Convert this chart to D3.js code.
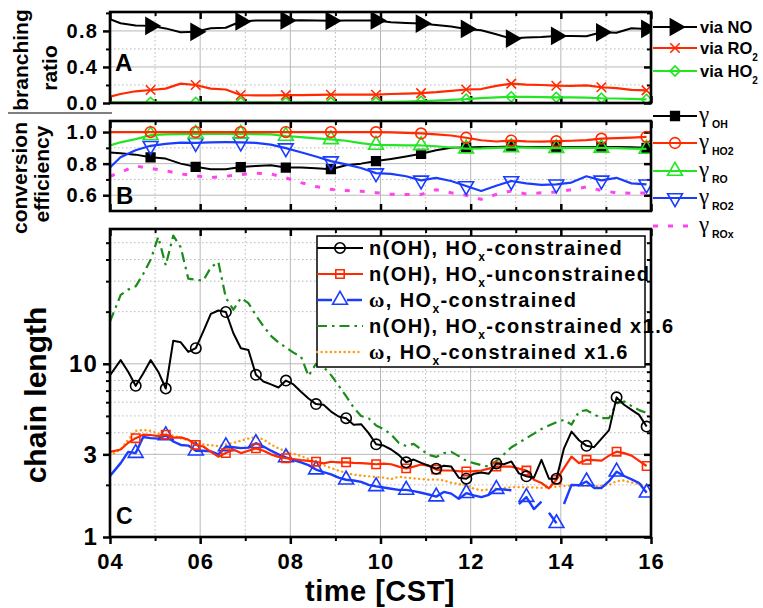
<!DOCTYPE html>
<html>
<head>
<meta charset="utf-8">
<script src="https://cdn.jsdelivr.net/npm/d3@7"></script>
<style>
  body { margin: 0; background: #fff; }
  svg { font-family: Arial, "Liberation Sans", sans-serif; font-weight: bold; }
</style>
</head>
<body>
<svg id="chart"></svg>
<script>
// ---- data ----
const hourTicks = d3.range(4, 17);
// panels A and B: 20-min averages (first point at 04:00)
const timeAB = d3.range(37).map(i => i === 0 ? 4.0 : 3.9 + i / 3);
const viaNO = [0.93, 0.885, 0.86, 0.856, 0.828, 0.785, 0.79, 0.83, 0.835, 0.905, 0.915, 0.915, 0.916, 0.918, 0.915, 0.912, 0.916, 0.916, 0.916, 0.896, 0.889, 0.881, 0.867, 0.848, 0.822, 0.807, 0.763, 0.715, 0.726, 0.733, 0.744, 0.744, 0.741, 0.785, 0.78, 0.83, 0.822];
const viaRO2 = [0.07, 0.1, 0.13, 0.144, 0.16, 0.215, 0.2, 0.16, 0.15, 0.089, 0.085, 0.085, 0.088, 0.088, 0.09, 0.092, 0.092, 0.092, 0.092, 0.1, 0.105, 0.11, 0.12, 0.135, 0.15, 0.155, 0.19, 0.215, 0.205, 0.2, 0.192, 0.19, 0.195, 0.175, 0.165, 0.145, 0.14];
const viaHO2 = [0.008, 0.008, 0.008, 0.008, 0.008, 0.008, 0.008, 0.008, 0.008, 0.008, 0.008, 0.008, 0.008, 0.008, 0.008, 0.008, 0.008, 0.008, 0.01, 0.012, 0.015, 0.02, 0.028, 0.034, 0.042, 0.055, 0.062, 0.068, 0.068, 0.066, 0.063, 0.062, 0.06, 0.053, 0.05, 0.045, 0.04];

const gammaOH = [0.87, 0.865, 0.857, 0.84, 0.832, 0.8, 0.78, 0.765, 0.765, 0.778, 0.785, 0.79, 0.775, 0.775, 0.77, 0.765, 0.79, 0.8, 0.816, 0.83, 0.845, 0.862, 0.885, 0.9, 0.902, 0.905, 0.906, 0.908, 0.906, 0.905, 0.904, 0.905, 0.906, 0.906, 0.905, 0.903, 0.9];
const gammaHO2 = [1, 1, 1, 1, 1, 1, 1, 1, 1, 1, 1, 1, 1, 1, 1, 1, 1, 0.999, 0.999, 0.998, 0.995, 0.991, 0.985, 0.978, 0.964, 0.948, 0.94, 0.946, 0.941, 0.939, 0.942, 0.945, 0.949, 0.958, 0.962, 0.965, 0.97];
const gammaRO = [0.915, 0.935, 0.955, 0.98, 0.985, 0.987, 0.988, 0.988, 0.988, 0.988, 0.987, 0.985, 0.975, 0.968, 0.96, 0.954, 0.945, 0.93, 0.918, 0.917, 0.916, 0.915, 0.91, 0.902, 0.895, 0.896, 0.9, 0.903, 0.902, 0.9, 0.898, 0.9, 0.9, 0.9, 0.898, 0.895, 0.893];
const gammaRO2 = [0.775, 0.84, 0.885, 0.913, 0.925, 0.933, 0.932, 0.935, 0.936, 0.935, 0.932, 0.92, 0.898, 0.872, 0.845, 0.816, 0.795, 0.772, 0.74, 0.735, 0.72, 0.694, 0.71, 0.69, 0.658, 0.627, 0.66, 0.69, 0.675, 0.665, 0.669, 0.68, 0.72, 0.694, 0.71, 0.675, 0.669];
const gammaROx = [0.72, 0.745, 0.785, 0.77, 0.755, 0.735, 0.722, 0.712, 0.72, 0.73, 0.74, 0.735, 0.71, 0.68, 0.655, 0.637, 0.63, 0.625, 0.616, 0.606, 0.605, 0.605, 0.635, 0.615, 0.6, 0.574, 0.605, 0.627, 0.608, 0.615, 0.62, 0.635, 0.652, 0.63, 0.615, 0.612, 0.615];

// panel C: 10-min values
const timeC = d3.range(72).map(k => k === 0 ? 4.0 : 4.07 + k / 6);
const nOHcon = [8.6, 10.5, 9.0, 7.46, 8.8, 10.5, 9.0, 7.2, 13.6, 13.3, 11.7, 12.3, 15.4, 19.4, 20.3, 19.9, 15.0, 12.3, 12.0, 8.64, 7.9, 7.6, 7.3, 8.0, 7.6, 6.9, 6.3, 5.85, 5.8, 5.3, 4.96, 4.85, 4.44, 4.48, 3.98, 3.43,
  3.37, 3.2, 2.98, 2.7, 2.8, 2.68, 2.58, 2.48, 2.58, 2.55, 2.2, 2.17, 2.32, 2.36, 2.32, 2.66, 2.63, 2.73, 2.33, 2.24, 2.2, 2.79, 2.17, 2.17, 3.25, 4.06, 3.62, 3.36, 3.3, 3.7, 4.14, 6.4, 5.8, 5.42, 5.07, 4.34];
const nOHunc = [3.1, 3.2, 3.5, 3.72, 3.9, 3.88, 3.82, 3.9, 3.75, 3.76, 3.65, 3.4, 3.33, 3.1, 2.91, 3.05, 3.2, 3.05, 3.15, 3.25, 3.15, 3.0, 2.9, 2.85, 2.82, 2.78, 2.75, 2.72, 2.66, 2.72, 2.7, 2.7, 2.68, 2.67, 2.65, 2.63,
  2.65, 2.63, 2.55, 2.49, 2.55, 2.62, 2.58, 2.45, 2.42, 2.42, 2.4, 2.39, 2.4, 2.42, 2.48, 2.55, 2.55, 2.55, 2.48, 2.42, 2.14, 2.05, 1.91, 2.14, 2.5, 2.91, 2.67, 2.79, 2.78, 2.76, 2.95, 3.11, 3.05, 2.95, 2.75, 2.57];
const omegaCon = [2.25, 2.67, 3.1, 3.05, 3.78, 3.72, 3.7, 3.86, 3.56, 3.4, 3.37, 3.15, 3.15, 3.12, 3.0, 3.33, 3.3, 3.26, 3.28, 3.48, 3.33, 3.15, 3.0, 2.88, 2.78, 2.7, 2.6, 2.45, 2.37, 2.3, 2.2, 2.14, 2.12, 2.08, 2.0, 1.96,
  1.93, 1.9, 1.87, 1.87, 1.84, 1.8, 1.76, 1.71, 1.82, 1.78, 1.66, 1.79, 1.74, 1.7, 1.75, 1.89, 1.88, 1.86, 1.55, 1.7, 1.45, 1.6, 1.38, 1.2, 1.55, 2.0, 1.99, 2.09, 1.92, 1.92, 2.1, 2.38, 2.25, 2.15, 2.05, 1.8];
const omegaBreaks = [53, 57, 59]; // the series has gaps after these points
const nOHcon16 = [17.5, 25, 26.8, 28, 33, 40, 54, 37, 55, 47, 31, 30.6, 30.2, 36, 38.7, 24, 20.5, 24, 22.4, 19, 16.5, 14.5, 13.3, 12.4, 11.6, 11, 8.5, 10.0, 9.6, 8.6, 7.5, 6.5, 5.6, 5.0, 4.85, 4.4,
  4.2, 3.9, 3.5, 3.35, 3.45, 3.2, 2.98, 2.9, 3.05, 3.1, 2.93, 2.75, 2.67, 2.6, 2.55, 2.75, 3.0, 3.3, 3.5, 3.72, 3.95, 4.2, 4.4, 4.6, 4.75, 4.45, 5.3, 5.4, 5.1, 4.86, 4.86, 5.9, 6.06, 5.7, 5.4, 5.2];
const omegaCon16 = [2.95, 3.2, 3.65, 4.1, 4.15, 4.1, 3.95, 3.9, 3.85, 3.72, 3.62, 3.5, 3.42, 3.38, 3.35, 3.42, 3.5, 3.6, 3.7, 3.78, 3.66, 3.42, 3.25, 3.12, 3.03, 2.93, 2.83, 2.7, 2.6, 2.5, 2.42, 2.34, 2.29, 2.26, 2.24, 2.22,
  2.2, 2.16, 2.23, 2.2, 2.18, 2.16, 2.14, 2.15, 2.12, 2.06, 2.02, 1.99, 1.9, 1.86, 1.88, 1.9, 1.92, 1.94, 1.94, 1.94, 1.93, 1.92, 1.94, 1.95, 1.97, 1.98, 1.99, 1.98, 1.97, 1.98, 2.0, 2.1, 2.12, 2.06, 2.02, 1.97];

// ---- layout ----
const width = 763, height = 608;
const svg = d3.select("#chart").attr("width", width).attr("height", height);
const x = d3.scaleLinear().domain([4, 16]).range([110, 651]);
const boxA = { top: 12, bottom: 103 }, boxB = { top: 121, bottom: 211 }, boxC = { top: 229, bottom: 537 };
const yA = d3.scaleLinear().domain([0, 1.01]).range([boxA.bottom, boxA.top]);
const yB = d3.scaleLinear().domain([0.5, 1.07]).range([boxB.bottom, boxB.top]);
const yC = d3.scaleLog().domain([1, 60]).range([boxC.bottom, boxC.top]);

const cross = { draw(ctx, size) { const r = Math.sqrt(size) / 2; ctx.moveTo(-r, -r); ctx.lineTo(r, r); ctx.moveTo(-r, r); ctx.lineTo(r, -r); } };
const markAB = i => i > 0 && i % 3 === 0;
const markC = k => k % 4 === 3;

const RED = "#ff2a00", GREEN = "#22e622", BLUE = "#1a3cff", PINK = "#ff44ee", DKGREEN = "#1a8c1a", ORANGE = "#ff9a10";

function styleAxis(g, w) {
  g.select(".domain").remove();
  g.selectAll(".tick line").attr("stroke", "#000").attr("stroke-width", w);
}

function drawPanel(box, y, yMajor, yMinor, fmt, fontSize, xLabels) {
  const g = svg.append("g");
  const x0 = x.range()[0], x1 = x.range()[1];
  // grid
  g.selectAll(null).data(hourTicks.slice(1, -1)).join("line")
    .attr("x1", d => x(d)).attr("x2", d => x(d)).attr("y1", box.top).attr("y2", box.bottom)
    .attr("stroke", "#b8b8b8").attr("stroke-width", 1)
    .attr("stroke-dasharray", d => d % 2 ? "1.5,2.5" : null);
  g.selectAll(null).data(yMajor.concat(yMinor).filter(v => y(v) < box.bottom - 1 && y(v) > box.top + 1)).join("line")
    .attr("x1", x0).attr("x2", x1).attr("y1", d => y(d)).attr("y2", d => y(d))
    .attr("stroke", "#b8b8b8").attr("stroke-width", 1)
    .attr("stroke-dasharray", d => yMajor.includes(d) ? null : "1.5,2.5");

  // left axis (outward)
  const left = g.append("g").attr("transform", `translate(${x0},0)`);
  left.call(d3.axisLeft(y).tickValues(yMajor).tickSize(7).tickPadding(5).tickFormat(fmt)).call(styleAxis, 2.5);
  left.selectAll("text").attr("font-size", fontSize).attr("letter-spacing", 1.2)
    .attr("font-family", null).attr("font-weight", "bold").attr("fill", "#000");
  left.append("g").call(d3.axisLeft(y).tickValues(yMinor).tickSize(4).tickFormat("")).call(styleAxis, 2);
  // right axis (inward)
  const right = g.append("g").attr("transform", `translate(${x1},0)`);
  right.call(d3.axisRight(y).tickValues(yMajor).tickSize(-7).tickFormat("")).call(styleAxis, 2.5);
  right.append("g").call(d3.axisRight(y).tickValues(yMinor).tickSize(-4).tickFormat("")).call(styleAxis, 2);
  // top axis (inward)
  const even = hourTicks.filter(h => h % 2 === 0), odd = hourTicks.filter(h => h % 2 === 1);
  const top = g.append("g").attr("transform", `translate(0,${box.top})`);
  top.call(d3.axisTop(x).tickValues(even).tickSize(-7).tickFormat("")).call(styleAxis, 2.5);
  top.append("g").call(d3.axisTop(x).tickValues(odd).tickSize(-4).tickFormat("")).call(styleAxis, 2);
  // bottom axis
  const bottom = g.append("g").attr("transform", `translate(0,${box.bottom})`);
  const s = xLabels ? 1 : -1;
  bottom.call(d3.axisBottom(x).tickValues(even).tickSize(7 * s).tickPadding(9)
    .tickFormat(xLabels ? d3.format("02d") : "")).call(styleAxis, 2.5);
  bottom.append("g").call(d3.axisBottom(x).tickValues(odd).tickSize(4 * s).tickFormat("")).call(styleAxis, 2);
  bottom.selectAll("text").attr("font-size", 22).attr("letter-spacing", 1)
    .attr("font-family", null).attr("font-weight", "bold").attr("fill", "#000");

  const id = "clip" + box.top;
  svg.append("clipPath").attr("id", id).append("rect")
    .attr("x", x0).attr("y", box.top).attr("width", x1 - x0).attr("height", box.bottom - box.top);
  const plot = svg.append("g").attr("clip-path", `url(#${id})`);
  return plot;
}

function drawFrame(box) {
  svg.append("rect").attr("x", x.range()[0]).attr("y", box.top)
    .attr("width", x.range()[1] - x.range()[0]).attr("height", box.bottom - box.top)
    .attr("fill", "none").attr("stroke", "#000").attr("stroke-width", 2.6);
}

function marker(sel, st) {
  return sel.attr("d", d3.symbol(st.symbol, st.size))
    .attr("fill", st.fill ? st.color : "none").attr("stroke", st.color).attr("stroke-width", 1.6);
}

function plotSeries(g, times, values, y, st, isMarked, breaks = []) {
  const pts = times.map((t, i) => [t, values[i], i]);
  const pieces = [];
  let cur = [];
  pts.forEach((p, i) => { cur.push(p); if (breaks.includes(i)) { pieces.push(cur); cur = []; } });
  pieces.push(cur);
  const line = d3.line().x(d => x(d[0])).y(d => y(d[1]));
  g.selectAll(null).data(pieces).join("path")
    .attr("d", line).attr("fill", "none").attr("stroke", st.color).attr("stroke-width", st.width)
    .attr("stroke-dasharray", st.dash || null).attr("stroke-linecap", st.cap || "butt")
    .attr("stroke-linejoin", "round");
  if (st.symbol) {
    g.selectAll(null).data(pts.filter(p => isMarked(p[2]))).join("path")
      .attr("transform", d => `translate(${x(d[0])},${y(d[1])}) rotate(${st.rotate || 0})`)
      .call(marker, st);
  }
}

// ---- styles ----
const stNO = { color: "#000", width: 2, symbol: d3.symbolTriangle, size: 110, rotate: 90, fill: true };
const stRO2 = { color: RED, width: 2.2, symbol: cross, size: 90 };
const stHO2 = { color: GREEN, width: 2.2, symbol: d3.symbolSquare, size: 50, rotate: 45 };
const stGOH = { color: "#000", width: 2, symbol: d3.symbolSquare, size: 75, fill: true };
const stGHO2 = { color: RED, width: 2.2, symbol: d3.symbolCircle, size: 90 };
const stGRO = { color: GREEN, width: 2.2, symbol: d3.symbolTriangle, size: 95 };
const stGRO2 = { color: BLUE, width: 2.2, symbol: d3.symbolTriangle, size: 95, rotate: 180 };
const stGROx = { color: PINK, width: 3, dash: "5,10" };
const stC1 = { color: "#000", width: 2, symbol: d3.symbolCircle, size: 85 };
const stC2 = { color: RED, width: 2.2, symbol: d3.symbolSquare, size: 70 };
const stC3 = { color: BLUE, width: 2.4, symbol: d3.symbolTriangle, size: 95 };
const stC4 = { color: DKGREEN, width: 2.2, dash: "10,5,2.5,5" };
const stC5 = { color: ORANGE, width: 2.4, dash: "0.1,4.5", cap: "round" };

// ---- panel A ----
const pA = drawPanel(boxA, yA, [0, 0.4, 0.8], [0.2, 0.6, 1.0], d3.format(".1f"), 20, false);
plotSeries(pA, timeAB, viaHO2, yA, stHO2, markAB);
plotSeries(pA, timeAB, viaRO2, yA, stRO2, markAB);
plotSeries(pA, timeAB, viaNO, yA, stNO, markAB);
drawFrame(boxA);

// ---- panel B ----
const pB = drawPanel(boxB, yB, [0.6, 0.8, 1.0], [0.7, 0.9], d3.format(".1f"), 20, false);
plotSeries(pB, timeAB, gammaROx, yB, stGROx, markAB);
plotSeries(pB, timeAB, gammaOH, yB, stGOH, markAB);
plotSeries(pB, timeAB, gammaRO2, yB, stGRO2, markAB);
plotSeries(pB, timeAB, gammaRO, yB, stGRO, markAB);
plotSeries(pB, timeAB, gammaHO2, yB, stGHO2, markAB);
drawFrame(boxB);

// ---- panel C ----
const pC = drawPanel(boxC, yC, [1, 3, 10], [2, 4, 5, 6, 7, 8, 9, 20, 30, 40, 50], d3.format("d"), 24, true);
plotSeries(pC, timeC, omegaCon16, yC, stC5, markC);
plotSeries(pC, timeC, nOHcon16, yC, stC4, markC);
plotSeries(pC, timeC, omegaCon, yC, stC3, markC, omegaBreaks);
plotSeries(pC, timeC, nOHunc, yC, stC2, markC);
plotSeries(pC, timeC, nOHcon, yC, stC1, markC);

// legend C
const legC = svg.append("g");
legC.append("rect").attr("x", 317).attr("y", 236).attr("width", 328).attr("height", 131)
  .attr("fill", "#fff").attr("stroke", "#000").attr("stroke-width", 1.5);
const legCItems = [
  { st: stC1, y: 248, parts: [["n(OH), HO"], ["x", "sub"], ["-constrained"]] },
  { st: stC2, y: 274, parts: [["n(OH), HO"], ["x", "sub"], ["-unconstrained"]] },
  { st: Object.assign({}, stC3, { dash: "15,15" }), y: 300, parts: [["ω", "serif"], [", HO"], ["x", "sub"], ["-constrained"]] },
  { st: stC4, y: 326, parts: [["n(OH), HO"], ["x", "sub"], ["-constrained x1.6"]] },
  { st: stC5, y: 352, parts: [["ω", "serif"], [", HO"], ["x", "sub"], ["-constrained x1.6"]] }
];

function legendEntry(g, item, xl0, xl1, xt, fs, subFs, subDy, spacing) {
  const st = item.st;
  g.append("line").attr("x1", xl0).attr("x2", xl1).attr("y1", item.y).attr("y2", item.y)
    .attr("stroke", st.color).attr("stroke-width", st.width)
    .attr("stroke-dasharray", st.dash || null).attr("stroke-linecap", st.cap || "butt");
  if (st.symbol) {
    g.append("path").attr("transform", `translate(${(xl0 + xl1) / 2},${item.y}) rotate(${st.rotate || 0})`).call(marker, st);
  }
  const t = g.append("text").attr("x", xt).attr("y", item.y + fs * 0.36).attr("font-size", fs)
    .attr("letter-spacing", spacing || 0).attr("fill", "#000");
  let shifted = 0;
  item.parts.forEach(([s, kind]) => {
    const sp = t.append("tspan").text(s);
    if (kind === "sub") { sp.attr("font-size", subFs).attr("dy", subDy - shifted); shifted = subDy; }
    else { if (shifted) { sp.attr("dy", -shifted); shifted = 0; } }
    if (kind === "serif") sp.attr("font-family", "'Liberation Serif', 'DejaVu Serif', serif").attr("font-size", fs + 1);
  });
}
legCItems.forEach(item => legendEntry(legC, item, 317, 363, 369, 20, 12, 6, 1.4));
drawFrame(boxC);

// legends A and B (outside, right)
const legA = svg.append("g");
[
  { st: stNO, y: 27, parts: [["via NO"]] },
  { st: stRO2, y: 48, parts: [["via RO"], ["2", "sub"]] },
  { st: stHO2, y: 71, parts: [["via HO"], ["2", "sub"]] }
].forEach(item => legendEntry(legA, item, 653, 697, 700, 16.5, 10, 7, 0));

const legB = svg.append("g");
[
  { st: stGOH, y: 116, sub: "OH" },
  { st: stGHO2, y: 143, sub: "HO2" },
  { st: stGRO, y: 171, sub: "RO" },
  { st: stGRO2, y: 198, sub: "RO2" },
  { st: stGROx, y: 226, sub: "ROx" }
].forEach(item => {
  legendEntry(legB, Object.assign({ parts: [] }, item), 653, 697, 700, 17, 11, 7);
  legB.append("text").attr("x", 699).attr("y", item.y + 6).attr("font-size", 23).attr("font-weight", "normal")
    .attr("font-family", "'Liberation Serif', 'DejaVu Serif', serif").text("γ");
  legB.append("text").attr("x", 712).attr("y", item.y + 12).attr("font-size", 10.5).text(item.sub);
});

// panel letters
svg.append("text").attr("x", 115).attr("y", 71).attr("font-size", 24).text("A");
svg.append("text").attr("x", 116).attr("y", 204).attr("font-size", 24).text("B");
svg.append("text").attr("x", 116).attr("y", 524).attr("font-size", 23).text("C");

// axis titles
function vTitle(txt, cx, cy, fs) {
  svg.append("text").attr("transform", `translate(${cx},${cy}) rotate(-90)`)
    .attr("text-anchor", "middle").attr("font-size", fs).text(txt);
}
vTitle("branching", 28, 60, 21);
vTitle("ratio", 57, 68, 21);
svg.append("line").attr("x1", 8).attr("x2", 112).attr("y1", 113).attr("y2", 113)
  .attr("stroke", "#555").attr("stroke-width", 1.5);
vTitle("conversion", 27, 178, 21);
vTitle("efficiency", 49, 174, 21);
vTitle("chain length", 46, 395, 30);
svg.append("text").attr("x", 380).attr("y", 601).attr("text-anchor", "middle").attr("font-size", 29)
  .attr("letter-spacing", 0.5).text("time [CST]");
</script>
</body>
</html>
